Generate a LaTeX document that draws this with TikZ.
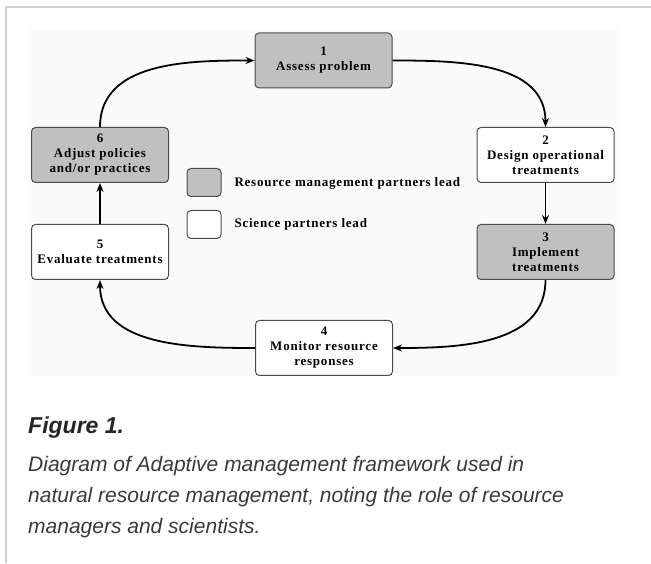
\documentclass[tikz,border=0pt]{standalone}
\usepackage{fontspec}
\usetikzlibrary{arrows.meta}
\setmainfont{Liberation Serif}
\newfontfamily\capfont{Liberation Sans}
\newfontfamily\boxfont[LetterSpace=6]{Liberation Serif}
\definecolor{StageGray}{HTML}{C0C0C0}
\definecolor{FrameGray}{HTML}{D2D2D2}
\definecolor{CapText}{HTML}{3A3A3A}
\tikzset{
  stagebox/.style={draw=black!70, line width=1pt, rounded corners=4pt, fill=white,
    minimum width=137pt, minimum height=55pt, inner sep=2pt, align=center,
    font=\boxfont\bfseries\fontsize{13}{15}\selectfont},
  mgmtbox/.style={stagebox, fill=StageGray},
  keybox/.style={draw=black!70, line width=1pt, rounded corners=4pt,
    minimum width=34pt, minimum height=28pt},
  keytext/.style={anchor=west, font=\boxfont\bfseries\fontsize{13}{15}\selectfont},
  flow/.style={->, line width=1.8pt},
}

\begin{document}
\begin{tikzpicture}[x=1pt, y=1pt, >={Stealth[length=9pt,width=7pt]}]
    \useasboundingbox (0,0) rectangle (651,563);
    % frame and panel
    \draw[FrameGray, line width=1.6pt] (651,556) -- (6,556) -- (6,0);
    \fill[black!2] (28,187) rectangle (620,534);

    % the six stages
    \node[mgmtbox] (assess) at (323.5,502.5) {1\\Assess problem};
    \node[stagebox] (design) at (545.5,408) {2\\Design operational\\treatments};
    \node[mgmtbox] (implement) at (545.5,311) {3\\Implement\\treatments};
    \node[stagebox] (monitor) at (324,215) {4\\Monitor resource\\responses};
    \node[stagebox] (evaluate) at (100,311) {5\\Evaluate treatments};
    \node[mgmtbox] (adjust) at (100,408) {6\\Adjust policies\\and/or practices};

    \draw[flow] (adjust.north) to[out=90,in=180] (assess.west);
    \draw[flow] (assess.east) to[out=0,in=90] (design.north);
    \draw[flow] (design) -- (implement);
    \draw[flow] (implement.south) to[out=-90,in=0] (monitor.east);
    \draw[flow] (monitor.west) to[out=180,in=-90] (evaluate.south);
    \draw[flow] (evaluate) -- (adjust);

    % key
    \node[keybox, fill=StageGray] (keymgmt) at (204,380.5) {};
    \node[keybox, fill=white] (keysci) at (204,338.5) {};
    \node[keytext] (keymgmttxt) at (231,380) {Resource management partners lead};
    \node[keytext] (keyscitxt) at (231,339) {Science partners lead};

    % caption
    \node[anchor=base west, inner sep=0pt, text=black!85,
      font=\capfont\bfseries\itshape\fontsize{23}{27}\selectfont] (figlabel) at (28,130) {Figure 1.};
    \node[anchor=north west, inner sep=0pt, align=left, text=CapText,
      font=\capfont\itshape\fontsize{21}{31}\selectfont] (figtext) at (28,107)
      {Diagram of Adaptive management framework used in\\
       natural resource management, noting the role of resource\\
       managers and scientists.};
  \end{tikzpicture}
\end{document}
